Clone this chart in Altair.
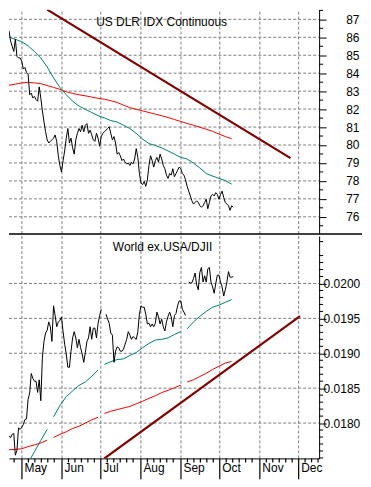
import altair as alt
import pandas as pd

# ---------------- data ----------------
START = pd.Timestamp("2009-04-21")
STEP_DAYS = 1.23        # spacing of the traced price samples
MA_STEP_DAYS = 4.92     # spacing of the traced moving-average samples

usd_close = [
    86.37, 85.80, 85.50, 85.21, 85.90, 84.94, 84.85, 84.85, 84.67, 84.23,
    84.32, 84.05, 83.96, 82.80, 82.89, 82.62, 82.71, 82.53, 82.44, 83.24,
    82.62, 81.90, 81.28, 80.74, 80.29, 80.11, 80.20, 80.29, 80.38, 80.56,
    80.20, 79.40, 78.86, 78.50, 79.13, 79.67, 80.38, 80.92, 80.11, 80.38,
    79.84, 79.49, 80.29, 80.65, 80.92, 80.74, 81.10, 80.74, 81.10, 81.19,
    80.65, 80.83, 80.56, 80.29, 80.20, 80.65, 80.38, 79.93, 80.47, 80.65,
    80.74, 80.83, 80.92, 81.01, 80.65, 80.29, 80.47, 80.11, 79.49, 79.58,
    79.40, 79.13, 79.22, 79.04, 78.95, 78.99, 78.86, 79.04, 78.95, 79.22,
    79.80, 79.31, 78.41, 77.88, 77.79, 77.97, 77.70, 78.06, 78.86, 79.40,
    79.13, 78.77, 79.13, 79.31, 79.04, 79.49, 79.22, 78.86, 78.68, 78.32,
    78.14, 78.41, 78.32, 78.68, 78.23, 78.41, 78.59, 78.77, 78.68, 78.41,
    78.32, 78.06, 77.70, 77.43, 77.16, 76.89, 76.71, 76.80, 76.89, 76.80,
    76.62, 76.53, 76.62, 76.80, 76.98, 76.45, 76.80, 77.16, 77.25, 77.16,
    77.34, 77.25, 76.98, 77.25, 77.43, 77.07, 76.80, 76.71, 76.62, 76.36,
    76.62, 76.53,
]
usd_ma_teal = [
    86.02, 85.89, 85.75, 85.53, 85.21, 84.85, 84.35, 83.74, 83.21, 82.80,
    82.44, 82.17, 81.99, 81.81, 81.63, 81.51, 81.36, 81.28, 81.10, 80.92,
    80.65, 80.33, 80.08, 79.97, 79.84, 79.67, 79.49, 79.31, 79.22, 78.99,
    78.72, 78.41, 78.27, 78.14, 78.02, 77.82,
]
usd_ma_red = [
    83.33, 83.39, 83.46, 83.49, 83.46, 83.42, 83.31, 83.21, 83.10, 82.97,
    82.87, 82.80, 82.74, 82.67, 82.60, 82.55, 82.47, 82.37, 82.22, 82.08,
    81.99, 81.90, 81.81, 81.72, 81.63, 81.53, 81.42, 81.31, 81.20, 81.10,
    80.99, 80.88, 80.76, 80.61, 80.47, 80.35,
]

world_close = [
    0.01782, 0.01779, 0.01784, 0.01785, 0.01754, 0.01761, 0.01793, 0.01791, 0.01794, 0.01798,
    0.01805, 0.01806, 0.01834, 0.01843, 0.01871, 0.01864, 0.01860, 0.01860, 0.01844, 0.01862,
    0.01832, 0.01894, 0.01917, 0.01929, 0.01933, 0.01945, 0.01938, 0.01917, 0.01968, 0.01954,
    0.01938, 0.01945, 0.01947, 0.01952, 0.01931, 0.01913, 0.01899, 0.01880, 0.01880, 0.01903,
    0.01922, 0.01931, 0.01922, 0.01908, 0.01920, 0.01908, 0.01899, 0.01887, 0.01901, 0.01917,
    0.01922, 0.01938, 0.01920, 0.01936, 0.01936, 0.01922, 0.01943, 0.01954, 0.01963, None,
    None, 0.01956, 0.01949, 0.01943, 0.01929, 0.01926, 0.01887, 0.01903, 0.01909, 0.01908,
    0.01903, 0.01903, 0.01906, 0.01913, 0.01920, 0.01931, 0.01926, 0.01920, 0.01924, 0.01922,
    0.01920, 0.01931, 0.01956, 0.01968, 0.01966, 0.01966, 0.01956, 0.01942, 0.01943, 0.01938,
    0.01942, 0.01938, 0.01943, 0.01959, 0.01952, 0.01942, 0.01949, 0.01938, 0.01932, 0.01945,
    0.01953, 0.01959, 0.01952, 0.01938, 0.01954, 0.01957, 0.01968, 0.01975, 0.01975, 0.01963,
    0.01959, 0.01954, None, 0.02002, 0.02001, 0.02001, 0.02007, 0.02015, 0.01998, 0.01991,
    0.02016, 0.02023, 0.02002, 0.02011, 0.02002, 0.02021, 0.02023, 0.02002, 0.01995, 0.01986,
    0.02000, 0.02012, 0.02012, 0.02002, 0.01995, 0.01982, 0.01991, 0.02002, 0.02017, 0.02009,
    0.02009, 0.02010,
]
world_ma_teal = [
    None, None, None, 0.01743, 0.01759, 0.01775, 0.01791, 0.01809, 0.01825, 0.01838,
    0.01846, 0.01854, 0.01859, 0.01867, 0.01876, 0.01884, 0.01888, 0.01891, 0.01892, 0.01897,
    0.01901, 0.01908, 0.01914, 0.01919, 0.01920, 0.01922, 0.01927, 0.01931, 0.01935, 0.01945,
    0.01953, 0.01960, 0.01966, 0.01969, 0.01973, 0.01977,
]
world_ma_red = [
    0.017618, 0.017623, 0.017632, 0.017664, 0.017687, 0.017715, 0.017756, 0.017793, 0.017839, 0.017876,
    0.017922, 0.017954, 0.018000, 0.018046, 0.018083, 0.018138, 0.018170, 0.018193, 0.018216, 0.018239,
    0.018276, 0.018313, 0.018354, 0.018391, 0.018437, 0.018469, 0.018506, 0.018543, 0.018589, 0.018621,
    0.018667, 0.018713, 0.018768, 0.018814, 0.018860, 0.018883,
]
WORLD_MA_BREAKS = [6, 14, 27]   # gaps in the moving-average lines after these samples

usd_trend_dates = ["2009-05-20T12:00:00", "2009-11-24T17:00:00"]
usd_trend_values = [87.54, 79.27]
world_trend_dates = ["2009-07-03T19:00:00", "2009-12-02T02:00:00"]
world_trend_values = [0.017494, 0.019531]

MONTHS = ["May", "Jun", "Jul", "Aug", "Sep", "Oct", "Nov", "Dec"]
MONTH_STARTS = ["2009-05-01", "2009-06-01", "2009-07-01", "2009-08-01",
                "2009-09-01", "2009-10-01", "2009-11-01", "2009-12-01"]
USD_TICKS = [76, 77, 78, 79, 80, 81, 82, 83, 84, 85, 86, 87]
WORLD_TICKS = [0.0180, 0.0185, 0.0190, 0.0195, 0.0200]
TOP_TITLE = "US DLR IDX Continuous"
BOTTOM_TITLE = "World ex.USA/DJII"

# ---------------- styling ----------------
W, H1, H2 = 311, 225, 223
FONT = "Liberation Sans"
BLACK, TEAL, RED, TREND = "#000000", "#00806E", "#FF0000", "#800000"
GRID = "#808080"
X_END = pd.Timestamp("2009-12-16 20:00")
USD_DOMAIN = [75.04, 87.54]
WORLD_DOMAIN = [0.017494, 0.020680]


def series_df(values, step, breaks=()):
    rows, gaps = [], 0
    for i, v in enumerate(values):
        if v is None:
            gaps += 1
            continue
        seg = gaps + sum(1 for b in breaks if i > b)
        t = START + pd.Timedelta(seconds=round(i * step * 86400))
        rows.append({"date": t, "value": v, "seg": seg})
    return pd.DataFrame(rows)


def trend_df(dates, values):
    return pd.DataFrame({"date": pd.to_datetime(dates), "value": values, "seg": 0})


x_scale = alt.Scale(domain=[alt.DateTime(year=2009, month="Apr", date=21),
                            alt.DateTime(year=2009, month="Dec", date=16, hours=20)])
month_values = [alt.DateTime(year=2009, month=m, date=1) for m in MONTHS]
month_df = pd.DataFrame({"date": pd.to_datetime(MONTH_STARTS)})

top_x_axis = alt.Axis(values=month_values, grid=False, labels=False, ticks=False,
                      domain=False, title=None)
bottom_x_axis = alt.Axis(values=month_values, grid=False, ticks=False,
                         format="%b", labelAlign="left", labelBaseline="middle",
                         labelOffset=2, labelPadding=9,
                         domainColor=BLACK, labelColor=BLACK, labelFont=FONT,
                         labelFontSize=12, title=None)

top_y_scale = alt.Scale(domain=USD_DOMAIN, nice=False, zero=False)
bottom_y_scale = alt.Scale(domain=WORLD_DOMAIN, nice=False, zero=False)

top_y_axis = alt.Axis(orient="right", values=USD_TICKS, grid=False,
                      tickSize=7, tickColor=BLACK, domainColor=BLACK,
                      labelAlign="right", labelPadding=33, labelColor=BLACK,
                      labelFont=FONT, labelFontSize=12, title=None)
bottom_y_axis = alt.Axis(orient="right", values=WORLD_TICKS, format=".4f", grid=False,
                         tickSize=7, tickColor=BLACK,
                         domainColor=BLACK, labelAlign="left", labelPadding=-3,
                         labelColor=BLACK, labelFont=FONT, labelFontSize=12, title=None)


def line_layer(df, color, yscale, yaxis, xaxis, width=1.0):
    return alt.Chart(df).mark_line(color=color, strokeWidth=width, clip=True).encode(
        x=alt.X("date:T", scale=x_scale, axis=xaxis),
        y=alt.Y("value:Q", scale=yscale, axis=yaxis),
        detail="seg:N",
    )


def grid_layers(ticks, domain, yscale, yaxis, xaxis, height):
    """Dashed grid drawn as short solid segments (3 px on, 2 px off)."""
    lo, hi = domain
    per_px = (hi - lo) / height
    vrows = []
    for d in month_df["date"]:
        y = lo
        while y < hi:
            vrows.append({"date": d, "y0": y, "y1": min(y + 3 * per_px, hi)})
            y += 5 * per_px
    v = alt.Chart(pd.DataFrame(vrows)).mark_rule(color=GRID, strokeWidth=1, opacity=1).encode(
        x=alt.X("date:T", scale=x_scale, axis=xaxis),
        y=alt.Y("y0:Q", scale=yscale, axis=yaxis), y2="y1:Q",
    )
    span = X_END - START
    step = span / W
    hrows = []
    for tv in ticks:
        t = START
        while t < X_END:
            hrows.append({"t0": t, "t1": min(t + 3 * step, X_END), "value": tv})
            t = t + 5 * step
    h = alt.Chart(pd.DataFrame(hrows)).mark_rule(color=GRID, strokeWidth=1, opacity=1).encode(
        x=alt.X("t0:T", scale=x_scale, axis=xaxis), x2="t1:T",
        y=alt.Y("value:Q", scale=yscale, axis=yaxis),
    )
    return [v, h]


def minor_y_ticks(values, yscale, yaxis):
    return alt.Chart(pd.DataFrame({"value": values})).mark_rule(color=BLACK, strokeWidth=1).encode(
        y=alt.Y("value:Q", scale=yscale, axis=yaxis),
        x=alt.value(W), x2=alt.value(W + 4),
    )


def title_layer(text, x, y):
    return alt.Chart(pd.DataFrame({"t": [text]})).mark_text(
        font=FONT, fontSize=12, color=BLACK, align="center", baseline="middle"
    ).encode(text="t:N", x=alt.value(x), y=alt.value(y))


usd_minor = [75.5 + k for k in range(13)]
world_minor = [round(0.0175 + k * 0.0001, 4) for k in range(32) if k % 5 != 0 or k == 0]

top = alt.layer(
    *grid_layers(USD_TICKS, USD_DOMAIN, top_y_scale, top_y_axis, top_x_axis, H1),
    line_layer(series_df(usd_ma_red, MA_STEP_DAYS), RED, top_y_scale, top_y_axis, top_x_axis),
    line_layer(series_df(usd_ma_teal, MA_STEP_DAYS), TEAL, top_y_scale, top_y_axis, top_x_axis),
    line_layer(series_df(usd_close, STEP_DAYS), BLACK, top_y_scale, top_y_axis, top_x_axis),
    line_layer(trend_df(usd_trend_dates, usd_trend_values), TREND, top_y_scale, top_y_axis,
               top_x_axis, width=2.2),
    minor_y_ticks(usd_minor, top_y_scale, top_y_axis),
    alt.Chart(pd.DataFrame({"k": [0]})).mark_rule(color=BLACK, strokeWidth=1.5).encode(
        x=alt.value(0), x2=alt.value(W + 43), y=alt.value(H1)),
    title_layer(TOP_TITLE, 153, 12),
).properties(width=W, height=H1)

week_ticks = pd.DataFrame({"date": [START + pd.Timedelta(days=4)] + [
    pd.Timestamp(2009, m, 1) + pd.Timedelta(days=d)
    for m in range(5, 13) for d in (5, 10, 15, 20, 25)
    if pd.Timestamp(2009, m, 1) + pd.Timedelta(days=d) <= pd.Timestamp(2009, 12, 16)
]})

bottom = alt.layer(
    *grid_layers(WORLD_TICKS, WORLD_DOMAIN, bottom_y_scale, bottom_y_axis, bottom_x_axis, H2),
    line_layer(series_df(world_ma_red, MA_STEP_DAYS, WORLD_MA_BREAKS), RED, bottom_y_scale,
               bottom_y_axis, bottom_x_axis),
    line_layer(series_df(world_ma_teal, MA_STEP_DAYS, WORLD_MA_BREAKS), TEAL, bottom_y_scale,
               bottom_y_axis, bottom_x_axis),
    line_layer(series_df(world_close, STEP_DAYS), BLACK, bottom_y_scale, bottom_y_axis,
               bottom_x_axis),
    line_layer(trend_df(world_trend_dates, world_trend_values), TREND, bottom_y_scale,
               bottom_y_axis, bottom_x_axis, width=2.2),
    minor_y_ticks(world_minor, bottom_y_scale, bottom_y_axis),
    alt.Chart(month_df).mark_rule(color=BLACK, strokeWidth=1.2).encode(
        x=alt.X("date:T", scale=x_scale, axis=bottom_x_axis),
        y=alt.value(H2), y2=alt.value(H2 + 21)),
    alt.Chart(week_ticks).mark_rule(color=BLACK, strokeWidth=1.2).encode(
        x=alt.X("date:T", scale=x_scale, axis=bottom_x_axis),
        y=alt.value(H2), y2=alt.value(H2 + 4)),
    title_layer(BOTTOM_TITLE, 154, 11),
).properties(width=W, height=H2)

chart = alt.vconcat(top, bottom, spacing=0).properties(
    padding=0, background="white"
).configure_view(stroke=None)

chart.save("out.html", embed_options={"renderer": "svg", "actions": False})
